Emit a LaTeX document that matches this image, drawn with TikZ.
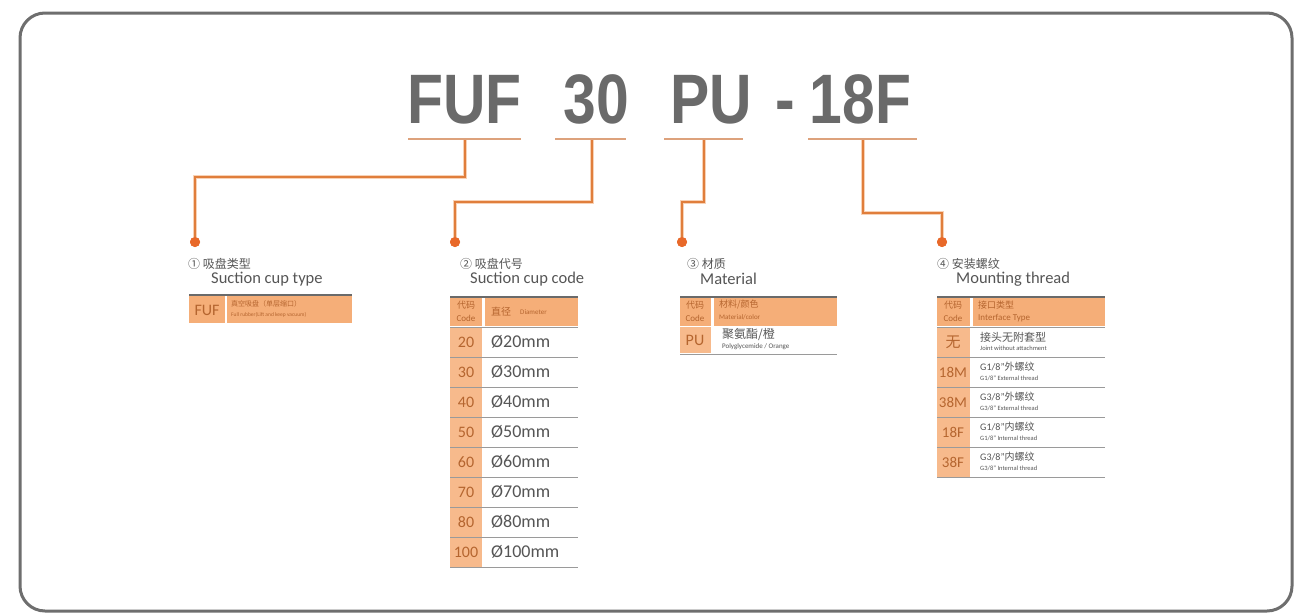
\documentclass[tikz,border=0pt]{standalone}
\usepackage{fontspec}
\setmainfont{Carlito}
\newfontfamily\cjk{Noto Sans CJK SC}
\newfontfamily\ttlfont{Liberation Sans}
\newcommand\myfs[1]{\fontsize{#1}{#1}\selectfont}
\definecolor{framegray}{HTML}{6E6E6E}
\definecolor{titlegray}{HTML}{6A6A6A}
\definecolor{connc}{HTML}{E07E3C}
\definecolor{peach}{HTML}{F8D2B6}
\definecolor{dotc}{HTML}{E8692A}
\definecolor{hdr}{HTML}{F5AE78}
\definecolor{codec}{HTML}{F7BA8C}
\definecolor{codetxt}{HTML}{B5652F}
\definecolor{labgray}{HTML}{555555}
\definecolor{rowrule}{HTML}{9A9A9A}
\definecolor{toprule}{HTML}{6A6A6A}
\definecolor{ulc}{HTML}{DDA27C}
\tikzset{
  frame/.style={draw=framegray,line width=3pt,rounded corners=25pt},
  ttl/.style={inner sep=0pt,anchor=base,text=titlegray,font=\ttlfont\bfseries\myfs{70}},
  uline/.style={draw=ulc,line width=2pt},
  conn/.style={draw=peach,double=connc,double distance=2pt,line width=1pt},
  dot/.style={circle,fill=dotc,inner sep=0pt,minimum size=10pt},
  labzh/.style={inner sep=0pt,anchor=west,text=labgray,font=\cjk\myfs{12}},
  laben/.style={inner sep=0pt,anchor=west,text=labgray,font=\myfs{16.5}},
  code/.style={inner sep=0pt,text=codetxt,font=\myfs{16}},
  codezh/.style={inner sep=0pt,text=codetxt,font=\cjk\myfs{9},align=center},
  hdrtxt/.style={inner sep=0pt,anchor=west,text=codetxt,font=\cjk\myfs{9}},
  hdren/.style={inner sep=0pt,anchor=west,text=codetxt,font=\myfs{7}},
  valtxt/.style={inner sep=0pt,anchor=west,text=labgray,font=\myfs{18}},
  valzh/.style={inner sep=0pt,anchor=west,text=labgray,font=\cjk\myfs{10}},
  valen/.style={inner sep=0pt,anchor=west,text=labgray,font=\myfs{6.5}},
  toprl/.style={draw=toprule,line width=2.2pt},
  rowrl/.style={draw=rowrule,line width=1pt}
}
\begin{document}
\begin{tikzpicture}[x=1pt,y=-1pt]
\useasboundingbox (0,0) rectangle (1295,613);
\fill[white] (0,0) rectangle (1295,613);
% frame
\draw[frame] (20,13) rectangle (1292,611);

% title
\node[ttl] (tFUF) at (464.5,123) {\scalebox{0.84}[1]{FUF}};
\node[ttl] (t30) at (596.5,123) {\scalebox{0.84}[1]{30}};
\node[ttl] (tPU) at (711,123) {\scalebox{0.84}[1]{PU}};
\node[ttl] (tdash) at (785.5,123) {\scalebox{0.84}[1]{-}};
\node[ttl] (t18F) at (860.5,123) {\scalebox{0.84}[1]{18F}};

% underlines
\coordinate (ul1a) at (408,139); \coordinate (ul1b) at (521,139);
\coordinate (ul2a) at (555,139); \coordinate (ul2b) at (626,139);
\coordinate (ul3a) at (664,139); \coordinate (ul3b) at (743,139);
\coordinate (ul4a) at (808,139); \coordinate (ul4b) at (917,139);
\draw[uline] (ul1a) -- (ul1b);
\draw[uline] (ul2a) -- (ul2b);
\draw[uline] (ul3a) -- (ul3b);
\draw[uline] (ul4a) -- (ul4b);

% connectors
\coordinate (u1) at (465,140); \coordinate (b1) at (195,177);
\coordinate (u2) at (592,140); \coordinate (b2) at (455,202);
\coordinate (u3) at (704,140); \coordinate (b3) at (682,202);
\coordinate (u4) at (863,140); \coordinate (b4) at (942,213);
\node[dot] (d1) at (195,242) {};
\node[dot] (d2) at (455,242) {};
\node[dot] (d3) at (682,242) {};
\node[dot] (d4) at (942,242) {};
\draw[conn] (u1) |- (b1) -- (d1.center);
\draw[conn] (u2) |- (b2) -- (d2.center);
\draw[conn] (u3) |- (b3) -- (d3.center);
\draw[conn] (u4) |- (b4) -- (d4.center);
\node[dot] at (d1) {};
\node[dot] at (d2) {};
\node[dot] at (d3) {};
\node[dot] at (d4) {};

% ---------- group 1
\node[labzh] (l1a) at (188,264) {① 吸盘类型};
\node[laben] (l1b) at (211,279) {Suction cup type};
\fill[hdr] (189,296) rectangle (225,323);
\fill[hdr] (227,296) rectangle (352,323);
\draw[toprl] (189,295) -- (352,295);
\node[code] (k1) at (207,310) {FUF};
\node[hdrtxt,font=\cjk\myfs{7}] (k1a) at (231,304) {真空吸盘（单层缩口）};
\node[hdren,font=\myfs{5.5}] (k1b) at (231,315) {Full rubber(Lift and keep vacuum)};

% ---------- group 2
\node[labzh] (l2a) at (460,264) {② 吸盘代号};
\node[laben] (l2b) at (470,279) {Suction cup code};
\fill[hdr] (450,298) rectangle (482,326);
\fill[hdr] (485,298) rectangle (578,326);
\fill[codec] (450,327) rectangle (482,567);
\draw[toprl] (450,297) -- (578,297);
\foreach \y in {327,357,...,567} \draw[rowrl] (450,\y) -- (578,\y);
\node[codezh] (h2a) at (466,305) {代码};
\node[hdren,anchor=center,font=\myfs{9}] (h2b) at (466,318) {Code};
\node[hdrtxt,font=\cjk\myfs{10}] (h2c) at (491,312) {直径};
\node[hdren] (h2d) at (520,312) {Diameter};
\foreach \c [count=\i from 0] in {20,30,40,50,60,70,80,100} {
  \node[code] (c2\i) at (466,342+30*\i) {\c};
  \node[valtxt] (v2\i) at (491,342+30*\i) {Ø\c mm};
}

% ---------- group 3
\node[labzh] (l3a) at (687,264) {③ 材质};
\node[laben] (l3b) at (700,279) {Material};
\fill[hdr] (680,298) rectangle (711,326);
\fill[hdr] (714,298) rectangle (837,326);
\fill[codec] (680,327) rectangle (711,353);
\draw[toprl] (680,297) -- (837,297);
\draw[rowrl] (680,354) -- (837,354);
\node[codezh] (h3a) at (695,305) {代码};
\node[hdren,anchor=center,font=\myfs{9}] (h3b) at (695,318) {Code};
\node[hdrtxt] (h3c) at (719,305) {材料/颜色};
\node[hdren] (h3d) at (719,317) {Material/color};
\node[code] (c3) at (695,340) {PU};
\node[valzh,font=\cjk\myfs{12}] (v3a) at (722,335) {聚氨酯/橙};
\node[valen,font=\myfs{7}] (v3b) at (722,347) {Polyglycemide / Orange};

% ---------- group 4
\node[labzh] (l4a) at (937,264) {④ 安装螺纹};
\node[laben] (l4b) at (956,279) {Mounting thread};
\fill[hdr] (937,298) rectangle (970,326);
\fill[hdr] (973,298) rectangle (1105,326);
\fill[codec] (937,327) rectangle (970,477);
\draw[toprl] (937,297) -- (1105,297);
\foreach \y in {327,357,...,477} \draw[rowrl] (937,\y) -- (1105,\y);
\node[codezh] (h4a) at (953,305) {代码};
\node[hdren,anchor=center,font=\myfs{9}] (h4b) at (953,318) {Code};
\node[hdrtxt] (h4c) at (978,305) {接口类型};
\node[hdren,font=\myfs{9}] (h4d) at (978,318) {Interface Type};

\node[code,font=\cjk\myfs{15}] (c40) at (953,342) {无};
\node[valzh,font=\cjk\myfs{11}] (v40a) at (980,337) {接头无附套型};
\node[valen] (v40b) at (980,348) {Joint without attachment};

\node[code,font=\myfs{15}] (c41) at (953,372) {18M};
\node[valzh] (v41a) at (980,367) {\myfs{10}\rmfamily G1/8”\cjk 外螺纹};
\node[valen] (v41b) at (980,378) {G1/8” External thread};

\node[code,font=\myfs{15}] (c42) at (953,402) {38M};
\node[valzh] (v42a) at (980,397) {\myfs{10}\rmfamily G3/8”\cjk 外螺纹};
\node[valen] (v42b) at (980,408) {G3/8” External thread};

\node[code,font=\myfs{15}] (c43) at (953,432) {18F};
\node[valzh] (v43a) at (980,427) {\myfs{10}\rmfamily G1/8”\cjk 内螺纹};
\node[valen] (v43b) at (980,438) {G1/8” Internal thread};

\node[code,font=\myfs{15}] (c44) at (953,462) {38F};
\node[valzh] (v44a) at (980,457) {\myfs{10}\rmfamily G3/8”\cjk 内螺纹};
\node[valen] (v44b) at (980,468) {G3/8” Internal thread};
\end{tikzpicture}
\end{document}
